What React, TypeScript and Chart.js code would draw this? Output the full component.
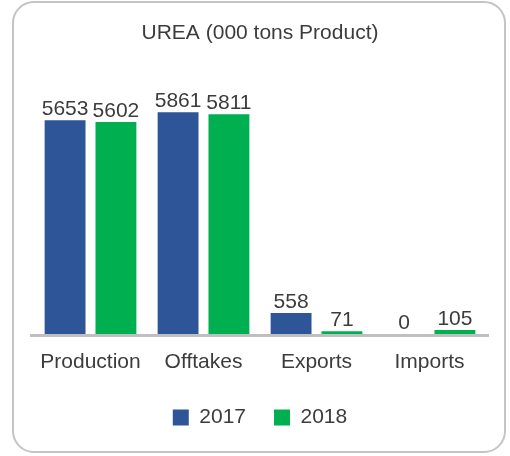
import React, { useEffect, useRef } from "react";
import { Chart, registerables } from "chart.js";

Chart.register(...registerables);

const categories = ["Production", "Offtakes", "Exports", "Imports"];
const seriesNames = ["2017", "2018"];
const values2017 = [5653, 5861, 558, 0];
const values2018 = [5602, 5811, 71, 105];
const chartTitle = "UREA (000 tons Product)";

const FONT = "'Liberation Sans', Arial, Helvetica, sans-serif";
const TEXT = "#3c3c3c";
const BLUE = "#2E5597";
const GREEN = "#00AF50";
const FS = 21;

const valueLabels = {
  id: "valueLabels",
  afterDatasetsDraw(chart: any) {
    const ctx = chart.ctx;
    ctx.save();
    const area = chart.chartArea;
    ctx.strokeStyle = "#BFBFBF";
    ctx.lineWidth = 3;
    ctx.beginPath();
    ctx.moveTo(area.left - 4, area.bottom + 1.5);
    ctx.lineTo(area.right + 3, area.bottom + 1.5);
    ctx.stroke();

    ctx.font = `${FS}px ${FONT}`;
    ctx.fillStyle = TEXT;
    ctx.textAlign = "center";
    ctx.textBaseline = "alphabetic";
    chart.data.datasets.forEach((ds: any, di: number) => {
      const meta = chart.getDatasetMeta(di);
      meta.data.forEach((el: any, i: number) => {
        ctx.fillText(String(ds.data[i]), el.x, el.y - 5);
      });
    });
    ctx.restore();
  },
};

export default function App() {
  const ref = useRef<HTMLCanvasElement | null>(null);
  useEffect(() => {
    if (!ref.current) return;
    const chart = new Chart(ref.current, {
      type: "bar",
      data: {
        labels: categories,
        datasets: [
          { label: seriesNames[0], data: values2017, backgroundColor: BLUE, borderWidth: 0 },
          { label: seriesNames[1], data: values2018, backgroundColor: GREEN, borderWidth: 0 },
        ],
      },
      options: {
        animation: false,
        responsive: false,
        maintainAspectRatio: false,
        layout: { padding: { left: 34, right: 24, top: 0, bottom: 18 } },
        datasets: { bar: { categoryPercentage: 0.9, barPercentage: 0.804 } },
        scales: {
          x: {
            grid: { display: false, drawTicks: false },
            border: { display: false },
            ticks: { font: { family: FONT, size: FS }, color: TEXT, padding: 16 },
            afterFit: (s: any) => {
              s.height = 45;
            },
          },
          y: { display: false, min: 0, max: 7000 },
        },
        plugins: {
          title: {
            display: true,
            text: chartTitle,
            color: TEXT,
            font: { family: FONT, size: FS, weight: "normal" },
            padding: { top: 21, bottom: 23 },
          },
          legend: {
            position: "bottom",
            labels: {
              font: { family: FONT, size: FS },
              color: TEXT,
              boxWidth: 16,
              boxHeight: 16,
              padding: 28,
            },
          },
          tooltip: { enabled: false },
        },
      },
      plugins: [valueLabels],
    });
    return () => chart.destroy();
  }, []);

  return (
    <div style={{ position: "fixed", left: 0, top: 0, width: 510, height: 456, background: "#fff" }}>
      <div
        style={{
          position: "absolute",
          left: 12,
          top: 1,
          width: 494,
          height: 452,
          boxSizing: "border-box",
          border: "2px solid #C4C4C4",
          borderRadius: 22,
        }}
      />
      <canvas ref={ref} width={510} height={456} style={{ position: "absolute", left: 0, top: 0 }} />
    </div>
  );
}
